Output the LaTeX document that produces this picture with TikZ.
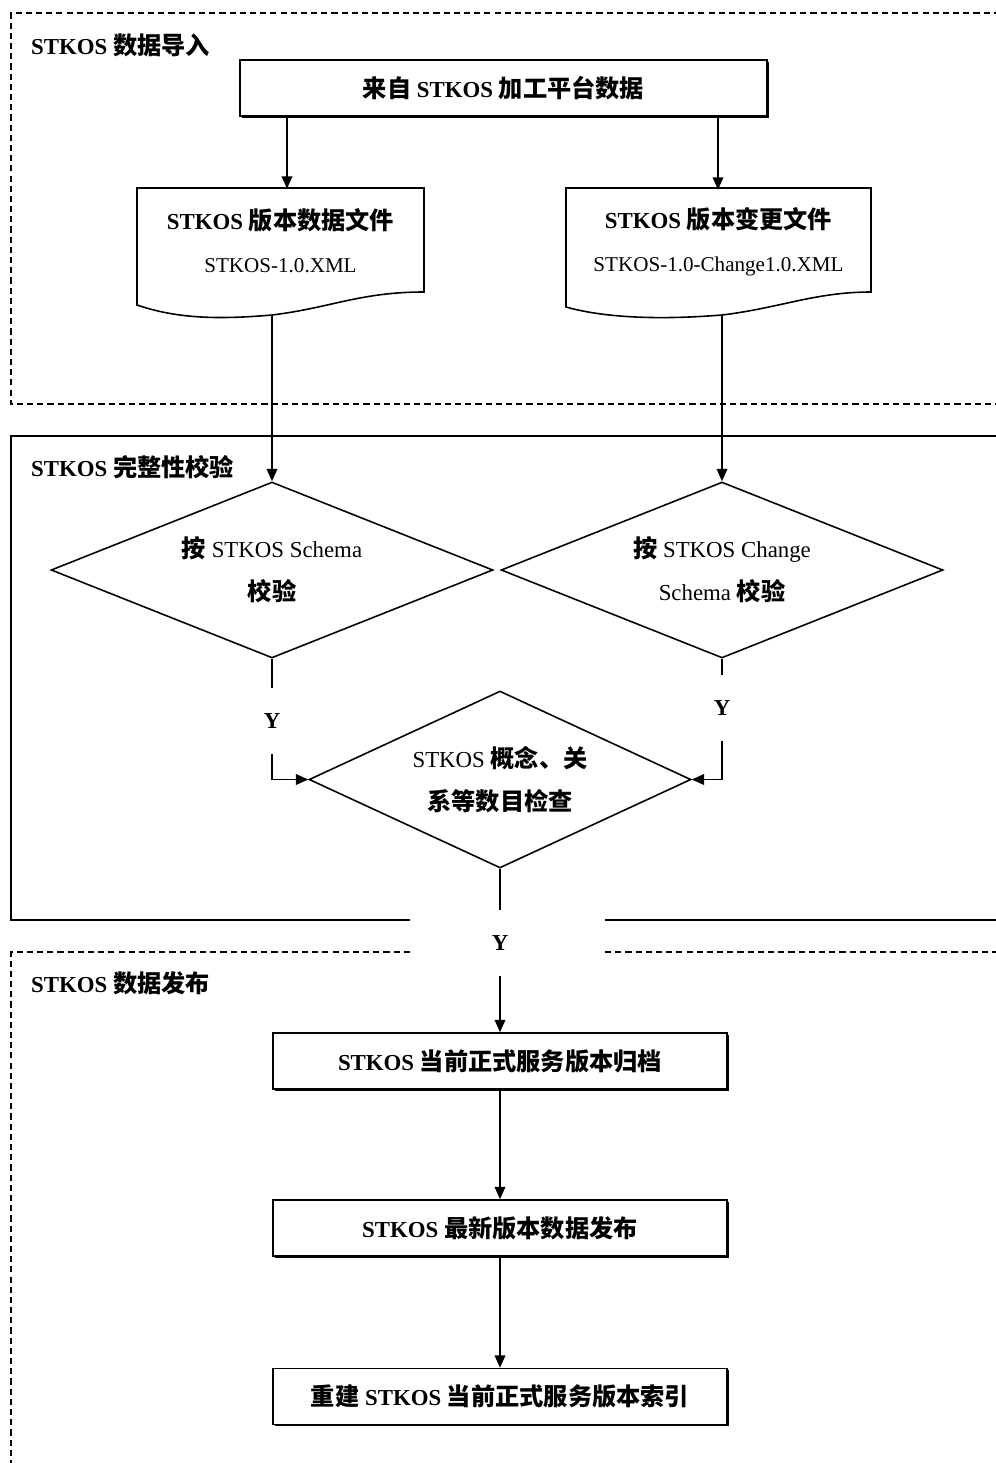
\documentclass[tikz,border=0pt]{standalone}
\usepackage{fontspec}
\setmainfont{Liberation Serif}
\newfontfamily\cjk{Noto Sans CJK SC}[Scale=1.06]
\usetikzlibrary{arrows.meta}
\usetikzlibrary{shapes.geometric}
\usetikzlibrary{shadows}

\newcommand{\zh}[1]{{\cjk\bfseries #1}}
\newcommand{\mainsize}{\fontsize{13}{24.5}\selectfont}
\newcommand{\subsize}{\fontsize{12}{24.5}\selectfont}

\tikzset{
  flowbox/.style={draw, line width=0.9pt, fill=white, minimum width=9.08cm, minimum height=1.12cm,
    font=\mainsize\bfseries, drop shadow={shadow xshift=0.9pt, shadow yshift=-0.9pt, fill=black, opacity=1}},
  docbox/.style={minimum height=2.08cm, align=center, font=\mainsize},
  checkbox/.style={diamond, draw, line width=0.9pt, fill=white, shape aspect=2.5, align=center,
    inner sep=0pt, font=\mainsize},
  ylabel/.style={font=\mainsize\bfseries, inner sep=0pt, minimum height=1.3cm},
  region/.style={line width=0.8pt, dash pattern=on 3.5pt off 2.3pt},
  frame/.style={line width=0.9pt},
  flow/.style={line width=1pt, -{Triangle[length=7pt,width=6pt]}},
  link/.style={line width=1pt},
}

\begin{document}
\begin{tikzpicture}[x=0.02cm, y=-0.02cm]
    \useasboundingbox (0,0) rectangle (995,1463);

    % three regions
    \draw[region] (1000,13) -- (11,13) -- (11,404) -- (1000,404);
    \draw[frame] (1000,436) -- (11,436) -- (11,920) -- (410,920);
    \draw[frame] (605,920) -- (1000,920);
    \draw[region] (410,952) -- (11,952) -- (11,1470);
    \draw[region] (605,952) -- (1000,952);

    \node[anchor=west, font=\mainsize] (lblImport) at (25,45) {\textbf{STKOS} \zh{数据导入}};
    \node[anchor=west, font=\mainsize] (lblCheck) at (25,467) {\textbf{STKOS} \zh{完整性校验}};
    \node[anchor=west, font=\mainsize] (lblPublish) at (25,983) {\textbf{STKOS} \zh{数据发布}};

    % import
    \node[flowbox, minimum width=10.54cm] (src) at (503.5,88) {\zh{来自} STKOS \zh{加工平台数据}};

    \draw[frame, fill=white] (137,305) .. controls (175,318) and (215,320) .. (272,315) coordinate (docAout)
        .. controls (330,308) and (360,292) .. (424,292) -- (424,188) -- (137,188) -- cycle;
    \node[docbox, minimum width=5.74cm] (docA) at (280.5,241)
        {\textbf{STKOS} \zh{版本数据文件}\\ \subsize STKOS-1.0.XML};

    \draw[frame, fill=white] (566,307) .. controls (605,318) and (660,320) .. (722,315) coordinate (docBout)
        .. controls (780,308) and (815,292) .. (871,292) -- (871,188) -- (566,188) -- cycle;
    \node[docbox, minimum width=6.10cm] (docB) at (718.5,242)
        {\textbf{STKOS} \zh{版本变更文件}\\ \subsize STKOS-1.0-Change1.0.XML};

    \coordinate (inA) at (287,0);
    \coordinate (inB) at (718,0);

    % checks
    \node[checkbox, minimum width=8.84cm, minimum height=3.52cm] (chkA) at (272,570)
        {\zh{按} STKOS Schema\\ \zh{校验}};
    \node[checkbox, minimum width=8.84cm, minimum height=3.52cm] (chkB) at (722,570)
        {\zh{按} STKOS Change\\ Schema \zh{校验}};
    \node[checkbox, minimum width=7.64cm, minimum height=3.54cm] (chkC) at (500,779.5)
        {STKOS \zh{概念、关}\\ \zh{系等数目检查}};

    \node[ylabel] (yA) at (272,721) {Y};
    \node[ylabel] (yB) at (722,708) {Y};
    \node[ylabel] (yC) at (500,943) {Y};

    % publish
    \node[flowbox] (arch) at (500,1061) {STKOS \zh{当前正式服务版本归档}};
    \node[flowbox] (pub) at (500,1228) {STKOS \zh{最新版本数据发布}};
    \node[flowbox] (idx) at (500,1396.5) {\zh{重建} STKOS \zh{当前正式服务版本索引}};

    % connectors
    \draw[flow] (src.south -| inA) -- (docA.north -| inA);
    \draw[flow] (src.south -| inB) -- (docB.north -| inB);
    \draw[flow] (docAout) -- (chkA.north);
    \draw[flow] (docBout) -- (chkB.north);
    \draw[link] (chkA.south) -- (yA.north);
    \draw[flow] (yA.south) |- (chkC.west);
    \draw[link] (chkB.south) -- (yB.north);
    \draw[flow] (yB.south) |- (chkC.east);
    \draw[link] (chkC.south) -- (yC.north);
    \draw[flow] (yC.south) -- (arch.north);
    \draw[flow] (arch) -- (pub);
    \draw[flow] (pub) -- (idx);
\end{tikzpicture}
\end{document}
